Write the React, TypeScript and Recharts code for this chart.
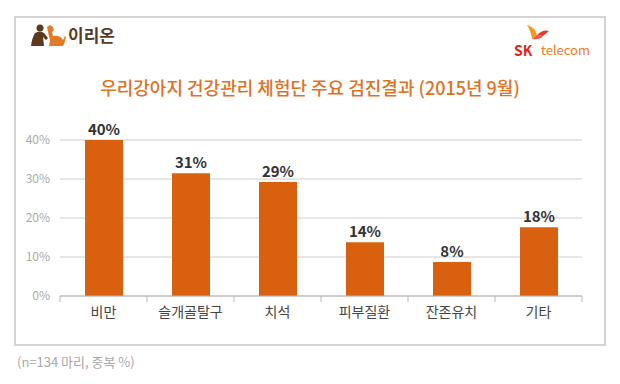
import React from 'react';
import { BarChart, Bar, XAxis, YAxis, CartesianGrid, LabelList } from 'recharts';

const categories = ['비만', '슬개골탈구', '치석', '피부질환', '잔존유치', '기타'];
const values = [40, 31.5, 29.2, 13.8, 8.7, 17.6];
const valueLabels = ['40%', '31%', '29%', '14%', '8%', '18%'];
const yTicks = [0, 10, 20, 30, 40];

const data = categories.map((name, i) => ({ name, value: values[i], label: valueLabels[i] }));

const FONT = '"Noto Sans CJK KR", "Noto Sans", sans-serif';
const BAR_COLOR = '#d9600f';

const CHART_W = 620;
const CHART_H = 384;
const MARGIN = { top: 140, right: 38, bottom: 58, left: 10 };
const Y_AXIS_W = 50;
const BAND = (CHART_W - MARGIN.left - MARGIN.right - Y_AXIS_W) / categories.length;

// category label + boundary tick marks
const CategoryTick = ({ x, y, payload, index }: any) => {
  const left = x - BAND / 2;
  const right = x + BAND / 2;
  return (
    <g>
      <line x1={left} y1={y - 8} x2={left} y2={y - 2} stroke="#b5b5b5" />
      {index === categories.length - 1 && (
        <line x1={right} y1={y - 8} x2={right} y2={y - 2} stroke="#b5b5b5" />
      )}
      <text x={x} y={y + 13} textAnchor="middle" fill="#444" fontSize={14} fontFamily={FONT}>
        {payload.value}
      </text>
    </g>
  );
};

const DogLogo = () => (
  <svg width={40} height={24} style={{ position: 'absolute', left: 27, top: 24 }}>
    {/* person */}
    <circle cx={13} cy={4} r={3.5} fill="#5b3a1f" />
    <path d="M8 9 Q13 6 17 9 L21 14 L19 16 L16 13 L17 22 L4 22 Q5 14 8 9 Z" fill="#5b3a1f" />
    {/* dog */}
    <path d="M20 3 L23 1 L26 3 L27 6 L25 8 L26 12 Q33 11 36 16 L38 12 L39 13 L37 20 L36 22 L22 22 L23 16 L21 8 Z" fill="#e57a26" />
  </svg>
);

const SkLogo = () => (
  <svg width={30} height={22} style={{ position: 'absolute', left: 521, top: 23 }}>
    <path d="M6 2 Q14 4 16 12 L11 16 Q10 8 6 2 Z" fill="#f39a1e" />
    <path d="M16 12 Q22 6 28 8 L22 13 Z" fill="#e8382d" />
    <path d="M11 16 L16 12 L22 13 Q18 17 11 16 Z" fill="#e8382d" opacity={0.85} />
  </svg>
);

export default function App() {
  return (
    <div style={{ position: 'absolute', left: 0, top: 0, width: CHART_W, height: CHART_H, background: '#fff', fontFamily: FONT }}>
      <div
        style={{
          position: 'absolute',
          left: 14,
          top: 16,
          width: 588,
          height: 326,
          border: '2px solid #d4d4d4',
        }}
      />
      <DogLogo />
      <div style={{ position: 'absolute', left: 68, top: 22, fontSize: 17, fontWeight: 700, color: '#5b3a1f' }}>이리온</div>
      <SkLogo />
      <div style={{ position: 'absolute', left: 514, top: 40, fontSize: 14, fontWeight: 700, color: '#e2231a' }}>SK</div>
      <div style={{ position: 'absolute', left: 541, top: 40, fontSize: 13, color: '#f07a22' }}>telecom</div>
      <div
        style={{
          position: 'absolute',
          left: 0,
          width: CHART_W,
          top: 74,
          textAlign: 'center',
          fontSize: 18,
          fontWeight: 500,
          color: '#e0711f',
        }}
      >
        우리강아지 건강관리 체험단 주요 검진결과 (2015년 9월)
      </div>
      <div style={{ position: 'absolute', left: 17, top: 352, fontSize: 13, color: '#a8a8a8' }}>(n=134 마리, 중복 %)</div>
      <BarChart width={CHART_W} height={CHART_H} data={data} margin={MARGIN} style={{ position: 'absolute', left: 0, top: 0 }}>
        <CartesianGrid vertical={false} stroke="#cccccc" />
        <XAxis
          dataKey="name"
          axisLine={{ stroke: '#b5b5b5' }}
          tickLine={false}
          interval={0}
          height={30}
          tick={<CategoryTick />}
        />
        <YAxis
          domain={[0, 40]}
          ticks={yTicks}
          width={Y_AXIS_W}
          axisLine={false}
          tickLine={false}
          tickSize={0}
          tickMargin={10}
          tickFormatter={(v: number) => `${v}%`}
          tick={{ fill: '#a8a8a8', fontSize: 12, fontFamily: FONT }}
        />
        <Bar dataKey="value" fill={BAR_COLOR} barSize={38} isAnimationActive={false}>
          <LabelList dataKey="label" position="top" offset={5} fill="#333" fontSize={15} fontWeight={700} fontFamily={FONT} />
        </Bar>
      </BarChart>
    </div>
  );
}
